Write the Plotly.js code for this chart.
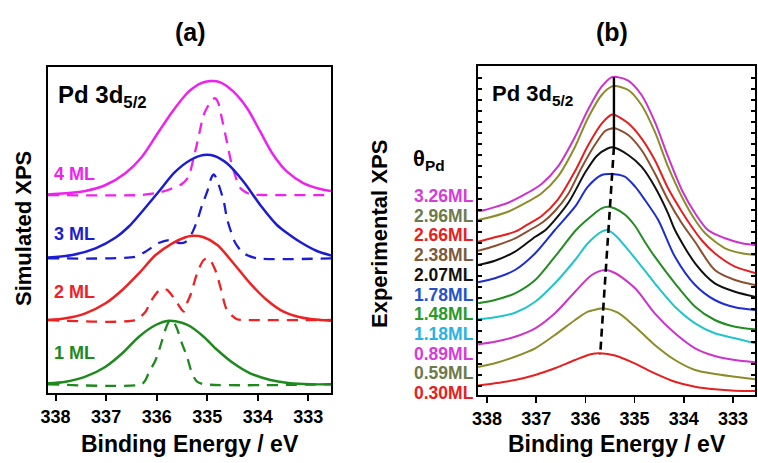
<!DOCTYPE html>
<html>
<head>
<meta charset="utf-8">
<script src="https://cdn.plot.ly/plotly-3.0.1.min.js"></script>
<style>html,body{margin:0;padding:0;background:#fff;}#chart{width:758px;height:463px;}</style>
</head>
<body>
<div id="chart"></div>
<script>
// ---------- Panel (a): simulated XPS (binding energy in eV, intensity in a.u. with offsets) ----------
const sim4TotE  = [338.15,337.80,337.41,337.01,336.62,336.29,335.96,335.69,335.43,335.33,335.13,334.94,334.74,334.48,334.21,333.95,333.69,333.42,333.09,332.76,332.55];
const sim4TotY  = [198.5,199.7,202,208,219.7,236.3,261.3,281.3,298,303,309.7,312,310.7,301.3,284.7,261.3,238,221.3,209.7,204,202];
const sim4DashE = [338.15,336.30,335.95,335.75,335.50,335.37,335.27,335.17,335.07,334.95,334.90,334.84,334.78,334.71,334.61,334.51,334.34,334.15,333.90,332.55];
const sim4DashY = [198,198,200.5,203.5,209,216.3,234.7,256.3,278,290,293.5,294.7,290,274.7,251.3,228,204.7,198.7,198,198];

const sim3TotE  = [338.15,337.67,337.21,336.81,336.55,336.29,335.96,335.63,335.33,335.07,334.87,334.61,334.28,333.95,333.62,333.42,333.16,332.83,332.55];
const sim3TotY  = [135.5,138,144.7,155.5,166.5,181.3,201.3,221.3,233,238,237.3,229.7,211.3,188,168,160,151,142,137.5];
const sim3DashE = [338.15,336.42,336.22,335.96,335.75,335.55,335.43,335.30,335.20,335.10,335.00,334.92,334.87,334.83,334.77,334.67,334.61,334.54,334.44,334.28,334.01,332.55];
const sim3DashY = [134.7,136.3,141.3,150,153,150,151,160,172,188,201.3,215,218.5,216,208,191.3,174.7,163,149.7,139.7,134.7,134.7];

const sim2TotE  = [338.15,337.80,337.41,337.01,336.68,336.35,336.02,335.69,335.43,335.33,335.07,334.80,334.48,334.15,333.82,333.49,333.16,332.76,332.55];
const sim2TotY  = [73,74.7,79.7,89.7,103,119.7,138,149.7,155.7,157,155.7,148,129.7,109.7,93,81.3,75.7,73,72.3];
const sim2DashE = [338.15,336.42,336.22,336.12,335.96,335.85,335.79,335.63,335.50,335.46,335.40,335.33,335.20,335.07,334.97,334.84,334.74,334.61,334.41,334.20,332.55];
const sim2DashY = [73,73,81.3,91.3,102.3,104,103,93,83,81.5,90,98,119.7,133,134.7,123,106.3,83,73.7,73,73];

const sim1TotE  = [338.15,337.80,337.41,337.01,336.68,336.35,336.02,335.76,335.50,335.33,335.07,334.80,334.48,334.15,333.75,333.36,332.96,332.55];
const sim1TotY  = [9.7,11.3,16.3,26.3,39.7,56.3,68,72.3,70.3,66.5,56.3,43,29.7,19.7,13,9.7,8.7,8.7];
const sim1DashE = [338.15,336.30,336.22,336.16,336.02,335.93,335.83,335.76,335.69,335.60,335.50,335.40,335.30,335.20,335.05,332.55];
const sim1DashY = [8.7,8.7,13,19.7,33,46.3,63,71.3,73,64.7,49.7,36.3,19.7,11.3,8.7,8.7];

const simLabels = ['4 ML','3 ML','2 ML','1 ML'];

// ---------- Panel (b): experimental XPS ----------
const exp326E = [338.18,338.11,337.57,337.17,336.89,336.56,336.21,335.95,335.67,335.47,335.36,335.13,334.86,334.59,334.32,334.04,333.77,333.51,333.16,332.82,332.55];
const exp326Y = [184,184.3,192.3,202.3,211,228.3,258.3,285,308.3,317.7,318,314.3,300,273.3,238.3,205,181.7,165,156.7,151.7,150];
const exp296E = [338.18,338.11,337.57,337.17,336.89,336.56,336.21,335.95,335.67,335.47,335.40,335.13,334.86,334.59,334.32,334.04,333.77,333.57,333.16,332.82,332.55];
const exp296Y = [175,175.7,183.3,193.3,201.7,218.3,248.3,276.7,300,308.3,309,305,290,263.3,228.3,198.3,175,162,146.7,141.7,140];
const exp266E = [338.18,337.84,337.43,337.17,336.89,336.56,336.21,335.95,335.67,335.47,335.40,335.13,334.86,334.59,334.32,334.04,333.84,333.64,333.37,332.96,332.55];
const exp266Y = [153.3,157.7,163.3,170.7,179,195.4,223.9,249.3,271.4,280.3,280,271.7,256.7,235,206.7,183.3,168.3,155,141.7,128.3,122];
const exp238E = [338.18,337.84,337.43,337.13,336.86,336.62,336.35,336.08,335.81,335.60,335.47,335.40,335.13,334.86,334.59,334.32,334.04,333.77,333.37,332.96,332.55];
const exp238Y = [144.3,149,156.7,165,173,184,201,227,250,264,266.5,266.7,260,245,221.7,195,171.7,153,125,115,110];
const exp207E = [338.18,337.84,337.43,337.02,336.81,336.35,336.01,335.77,335.55,335.44,335.13,334.86,334.59,334.32,334.18,333.77,333.37,332.96,332.55];
const exp207Y = [130,134.3,143.3,158.3,165,192,222,239,246.5,247.7,240,228.3,208.3,181.7,165,131.7,111.7,103.3,98.3];
const exp178E = [338.18,337.84,337.43,337.02,336.62,336.21,335.95,335.67,335.50,335.20,334.99,334.79,334.52,334.18,333.77,333.37,332.96,332.55];
const exp178Y = [112.7,116.7,125,141.7,165,188.3,208.3,220,221,218.3,208.3,195,175,138.3,110,95,87.7,85];
const exp148E = [338.18,337.84,337.43,337.02,336.62,336.19,335.95,335.67,335.54,335.40,335.20,334.99,334.79,334.59,334.18,333.77,333.37,332.96,332.55];
const exp148Y = [91.7,95,101.7,115,138.3,165,176,186.7,188.3,186.5,180.5,169,153,138.3,111.7,88.3,75,68.3,65.7];
const exp118E = [338.18,337.84,337.43,337.02,336.62,336.21,335.95,335.67,335.56,335.40,334.99,334.59,334.18,333.77,333.37,332.96,332.55];
const exp118Y = [75.7,77.7,82.3,93.3,111.7,135,151.7,163.3,165,160,136.7,111.7,88.3,71.7,61.7,56.7,51.7];
const exp089E = [338.18,337.84,337.43,337.02,336.62,336.21,335.87,335.60,335.40,334.99,334.59,334.18,333.77,333.37,332.96,332.55];
const exp089Y = [50.7,53.3,58.3,66.7,81.7,103.3,120,125,122,106.7,81.7,61.7,46.7,39,35,32.7];
const exp059E = [338.18,337.84,337.43,337.02,336.62,336.21,335.95,335.77,335.64,335.34,334.99,334.59,334.18,333.77,333.37,332.96,332.55];
const exp059Y = [28,31.7,38.3,46.7,60,75,83.3,85.7,86.7,82.3,68.3,50,35,25,21,18.3,15.7];
const exp030E = [338.18,337.84,337.43,337.02,336.62,336.21,335.87,335.70,335.40,335.00,334.59,334.18,333.77,333.37,332.96,332.55];
const exp030Y = [9.5,11.7,15,20,26.7,35,41,41.7,39.5,31.7,21.7,13.3,8.3,5.7,4.3,4];

const covLabels = ['3.26ML','2.96ML','2.66ML','2.38ML','2.07ML','1.78ML','1.48ML','1.18ML','0.89ML','0.59ML','0.30ML'];

// peak-position guide line
const guideSolidE = [335.42, 335.42];
const guideSolidY = [318, 248];
const guideDashE  = [335.42, 335.70];
const guideDashY  = [248, 40];

const xTickVals = [338, 337, 336, 335, 334, 333];

// ---------- styling ----------
const W = 758, H = 463;
const px = x => x / W;
const py = y => 1 - y / H;
const FONT = 'Liberation Sans, Arial, Helvetica, sans-serif';

const simColors = ['#ee22ee', '#1c1cd2', '#ee2222', '#1e8a1e'];
const expColors = ['#cc33cc', '#8c8c2a', '#e42020', '#8a4f2e', '#111111', '#1c2ed0', '#238c23', '#22c4cc', '#cc33cc', '#8c8c2a', '#e42020'];
const labColors = ['#d63cd6', '#6c7a4c', '#e82020', '#7d5a3c', '#111111', '#2452c8', '#2a9a2a', '#2ab2e2', '#d63cd6', '#6c7a4c', '#e82020'];

const traces = [];
const simSets = [
  [sim4TotE, sim4TotY, sim4DashE, sim4DashY],
  [sim3TotE, sim3TotY, sim3DashE, sim3DashY],
  [sim2TotE, sim2TotY, sim2DashE, sim2DashY],
  [sim1TotE, sim1TotY, sim1DashE, sim1DashY]
];
simSets.forEach((s, i) => {
  traces.push({x: s[2], y: s[3], xaxis: 'x', yaxis: 'y', mode: 'lines',
    line: {color: simColors[i], width: 2.3, dash: '11px,8px', shape: 'spline', smoothing: 0.7}, hoverinfo: 'skip'});
  traces.push({x: s[0], y: s[1], xaxis: 'x', yaxis: 'y', mode: 'lines',
    line: {color: simColors[i], width: 2.5, shape: 'spline', smoothing: 0.9}, hoverinfo: 'skip'});
});

const expSets = [
  [exp326E, exp326Y], [exp296E, exp296Y], [exp266E, exp266Y], [exp238E, exp238Y],
  [exp207E, exp207Y], [exp178E, exp178Y], [exp148E, exp148Y], [exp118E, exp118Y],
  [exp089E, exp089Y], [exp059E, exp059Y], [exp030E, exp030Y]
];
expSets.slice().reverse().forEach((s, k) => {
  const i = expSets.length - 1 - k;
  traces.push({x: s[0], y: s[1], xaxis: 'x2', yaxis: 'y2', mode: 'lines',
    line: {color: expColors[i], width: 2, shape: 'spline', smoothing: 0.8}, hoverinfo: 'skip'});
});
traces.push({x: guideSolidE, y: guideSolidY, xaxis: 'x2', yaxis: 'y2', mode: 'lines',
  line: {color: '#000', width: 2.4}, hoverinfo: 'skip'});
traces.push({x: guideDashE, y: guideDashY, xaxis: 'x2', yaxis: 'y2', mode: 'lines',
  line: {color: '#000', width: 2.6, dash: '8px,5px'}, hoverinfo: 'skip'});

const ann = [];
function A(text, x, y, size, color, xanchor, extra) {
  ann.push(Object.assign({text: text, x: px(x), y: py(y), xref: 'paper', yref: 'paper',
    showarrow: false, xanchor: xanchor || 'center', yanchor: 'middle',
    font: {family: FONT, size: size, color: color || '#000'}}, extra || {}));
}
A('<b>(a)</b>', 190, 32, 25);
A('<b>(b)</b>', 612, 32, 25);
A('<b>Binding Energy / eV</b>', 190, 444, 23);
A('<b>Binding Energy / eV</b>', 617, 444, 23);
A('<b>Simulated XPS</b>', 23, 229, 22, '#000', 'center', {textangle: -90});
A('<b>Experimental XPS</b>', 379, 234, 22, '#000', 'center', {textangle: -90});
A('<b>Pd 3d<sub>5/2</sub></b>', 56, 96, 24, '#000', 'left');
A('<b>Pd 3d<sub>5/2</sub></b>', 490, 95, 22, '#000', 'left');
A('<b>θ<sub>Pd</sub></b>', 411, 160, 22, '#000', 'left');
const simLabelY = [174, 234, 292, 353];
simLabels.forEach((t, i) => A('<b>' + t + '</b>', 52, simLabelY[i], 18, simColors[i], 'left'));
covLabels.forEach((t, i) => A('<b>' + t + '</b>', 476, 196 + 19.7 * i, 17.5, labColors[i], 'right'));

const axBase = {showgrid: false, zeroline: false, showline: true, linecolor: '#000', linewidth: 2};
const layout = {
  width: W, height: H,
  margin: {l: 0, r: 0, t: 0, b: 0},
  paper_bgcolor: '#fff', plot_bgcolor: '#fff',
  showlegend: false,
  font: {family: FONT, color: '#000'},
  xaxis: Object.assign({}, axBase, {domain: [48 / W, 331 / W], range: [338.15, 332.55], anchor: 'y',
    tickmode: 'array', tickvals: xTickVals, ticktext: xTickVals.map(String),
    ticks: 'outside', ticklen: 6, tickwidth: 2, tickcolor: '#000', mirror: true,
    tickfont: {family: FONT, size: 18, color: '#000', weight: 'bold'}}),
  yaxis: Object.assign({}, axBase, {domain: [1 - 393 / H, 1 - 67 / H], range: [0, 326], anchor: 'x',
    showticklabels: false, ticks: '', mirror: true}),
  xaxis2: Object.assign({}, axBase, {domain: [478 / W, 755 / W], range: [338.183, 332.553], anchor: 'y2',
    tickmode: 'array', tickvals: xTickVals, ticktext: xTickVals.map(String),
    ticks: 'outside', ticklen: 6, tickwidth: 1.5, tickcolor: '#000', mirror: true,
    tickfont: {family: FONT, size: 18, color: '#000', weight: 'bold'}}),
  yaxis2: Object.assign({}, axBase, {domain: [1 - 395 / H, 1 - 66 / H], range: [0, 329], anchor: 'x2',
    showticklabels: false, ticks: 'inside', ticklen: 4, tickwidth: 1.2, tickcolor: '#000',
    tick0: 9, dtick: 11, mirror: 'ticks'}),
  annotations: ann
};

Plotly.newPlot('chart', traces, layout, {staticPlot: true, displayModeBar: false});
</script>
</body>
</html>
